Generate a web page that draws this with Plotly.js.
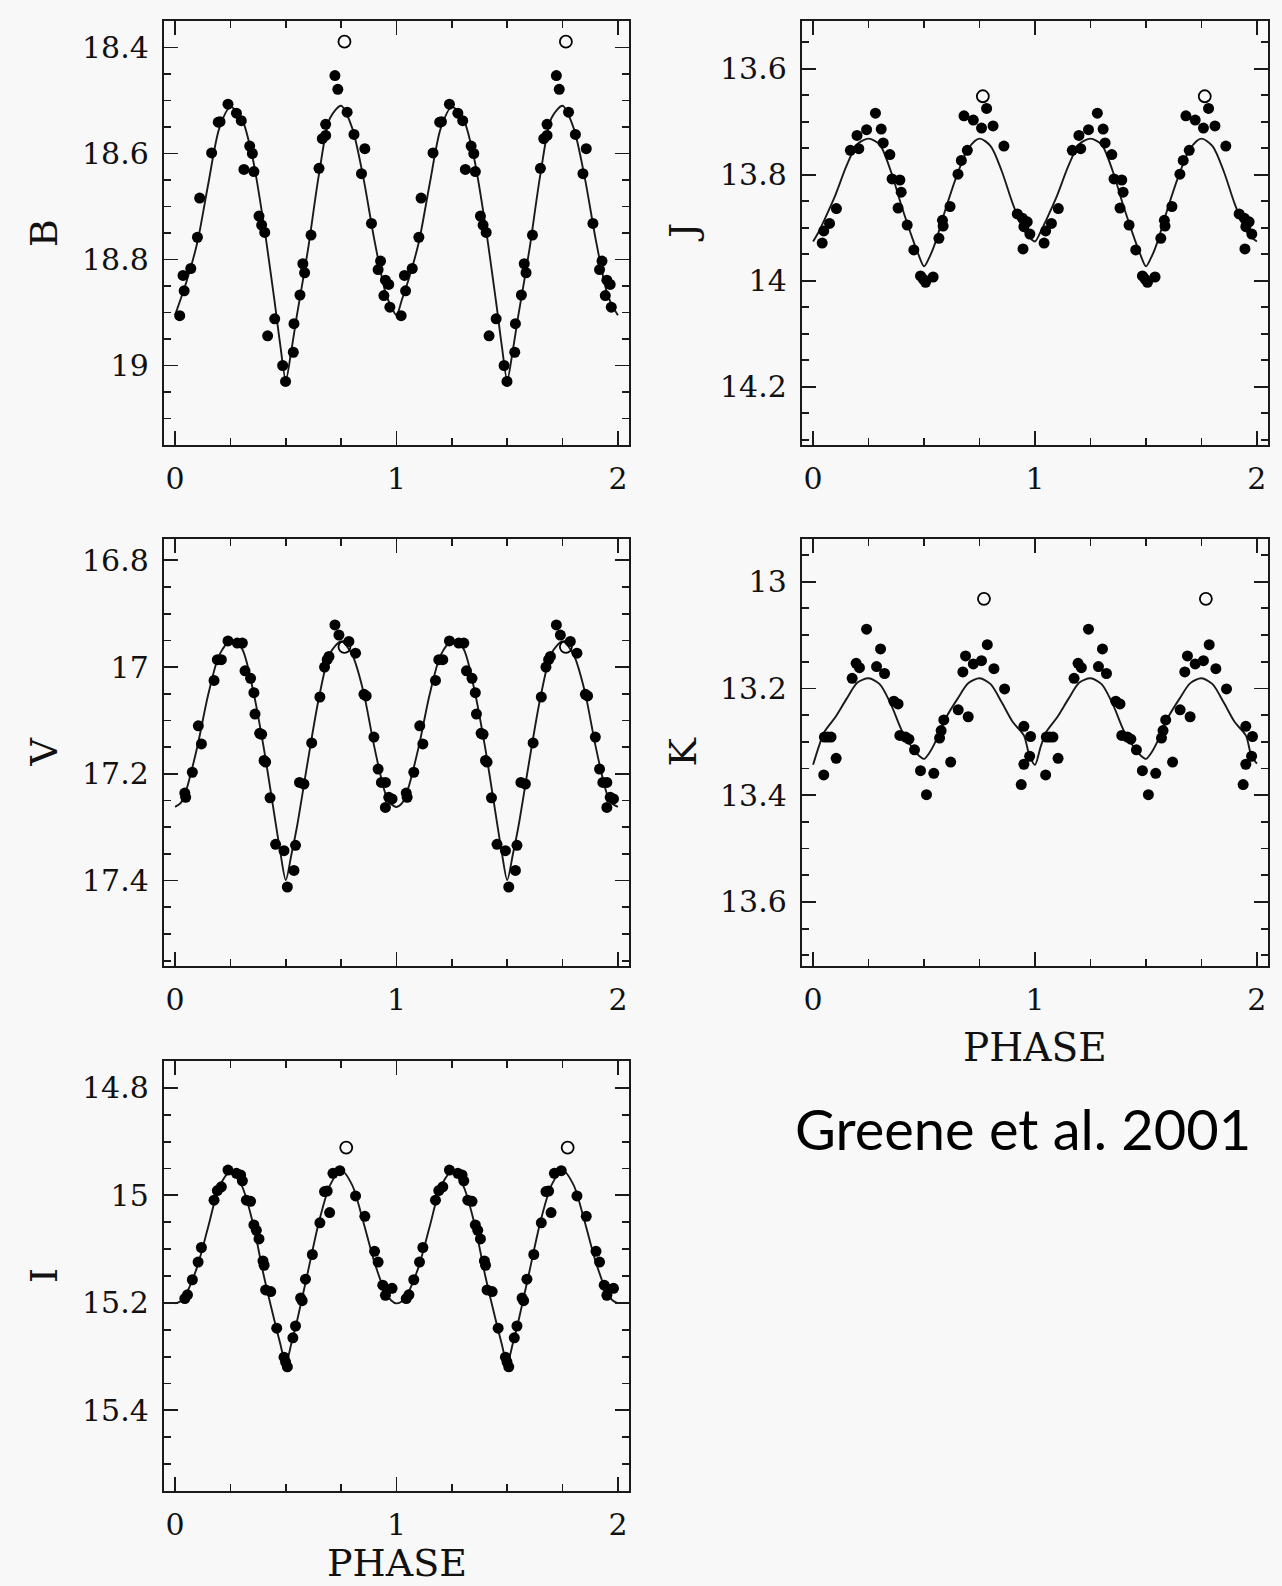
<!DOCTYPE html>
<html><head><meta charset="utf-8">
<script src="https://cdn.plot.ly/plotly-3.0.1.min.js"></script>
<style>html,body{margin:0;padding:0;background:#f8f8f8;} #chart{width:1282px;height:1586px;}</style>
</head><body><div id="chart"></div>
<script>
// ---- Data (one cycle, phase 0..1; plotted twice: phase and phase+1) ----
const bandNames = ["B", "V", "I", "J", "K"];

const bPhase = [0.021,0.041,0.036,0.071,0.101,0.111,0.165,0.195,0.203,0.239,0.277,0.299,0.337,0.349,0.311,0.356,0.379,0.391,0.405,0.418,0.450,0.486,0.499,0.534,0.537,0.564,0.577,0.585,0.614,0.650,0.665,0.680,0.680,0.722,0.735,0.777,0.808,0.857,0.842,0.887,0.928,0.917,0.950,0.965,0.943,0.970];
const bMag = [18.906,18.859,18.830,18.817,18.758,18.684,18.599,18.541,18.540,18.507,18.524,18.538,18.586,18.600,18.630,18.634,18.718,18.735,18.749,18.944,18.912,19.000,19.030,18.975,18.921,18.867,18.808,18.825,18.754,18.628,18.572,18.566,18.545,18.453,18.479,18.522,18.564,18.591,18.638,18.732,18.803,18.819,18.839,18.847,18.868,18.890];

const vPhase = [0.048,0.044,0.078,0.105,0.119,0.176,0.191,0.209,0.239,0.281,0.304,0.316,0.341,0.356,0.361,0.382,0.391,0.402,0.409,0.429,0.454,0.492,0.507,0.537,0.544,0.562,0.582,0.617,0.654,0.675,0.687,0.695,0.722,0.740,0.785,0.815,0.853,0.863,0.898,0.917,0.932,0.950,0.965,0.980,0.950];
const vMag = [17.244,17.236,17.197,17.110,17.144,17.025,16.986,16.986,16.951,16.955,16.955,17.007,17.021,17.048,17.088,17.124,17.126,17.175,17.178,17.245,17.332,17.344,17.412,17.381,17.334,17.216,17.219,17.142,17.056,17.000,16.986,16.980,16.921,16.940,16.952,16.974,17.051,17.054,17.131,17.191,17.216,17.216,17.244,17.247,17.263];

const iPhase = [0.044,0.056,0.078,0.104,0.119,0.176,0.191,0.209,0.239,0.277,0.296,0.304,0.322,0.341,0.356,0.367,0.379,0.397,0.402,0.409,0.432,0.459,0.492,0.499,0.507,0.532,0.544,0.567,0.574,0.589,0.620,0.654,0.698,0.675,0.687,0.713,0.744,0.815,0.857,0.901,0.917,0.938,0.958,0.980,0.950];
const iMag = [15.192,15.185,15.157,15.124,15.097,15.009,14.991,14.984,14.953,14.959,14.962,14.973,15.009,15.011,15.055,15.065,15.081,15.122,15.130,15.176,15.179,15.247,15.301,15.310,15.319,15.265,15.243,15.191,15.196,15.156,15.110,15.051,15.032,14.993,14.992,14.959,14.954,15.001,15.039,15.104,15.124,15.167,15.175,15.173,15.186];

const jPhase = [0.041,0.048,0.074,0.105,0.168,0.206,0.198,0.241,0.281,0.307,0.316,0.346,0.356,0.391,0.397,0.383,0.424,0.454,0.484,0.507,0.541,0.567,0.586,0.583,0.617,0.653,0.668,0.695,0.680,0.722,0.759,0.782,0.811,0.860,0.920,0.943,0.965,0.950,0.977,0.946,0.496];
const jMag = [13.929,13.906,13.892,13.864,13.754,13.751,13.726,13.715,13.684,13.714,13.740,13.762,13.808,13.810,13.833,13.863,13.895,13.942,13.991,14.003,13.993,13.920,13.897,13.886,13.860,13.799,13.773,13.754,13.689,13.697,13.712,13.675,13.708,13.746,13.874,13.882,13.889,13.898,13.912,13.940,13.997];

const kPhase = [0.048,0.051,0.066,0.081,0.104,0.176,0.194,0.209,0.241,0.286,0.304,0.322,0.364,0.383,0.391,0.417,0.432,0.457,0.484,0.511,0.544,0.570,0.577,0.589,0.620,0.654,0.675,0.687,0.699,0.722,0.759,0.785,0.815,0.863,0.950,0.980,0.976,0.950,0.938];
const kMag = [13.362,13.291,13.291,13.291,13.331,13.181,13.153,13.161,13.089,13.159,13.126,13.172,13.224,13.229,13.288,13.291,13.295,13.315,13.354,13.399,13.359,13.293,13.279,13.259,13.338,13.240,13.169,13.139,13.253,13.154,13.148,13.118,13.163,13.201,13.271,13.290,13.327,13.342,13.380];

// open-circle points (phase, mag)
const openPhase = {B: 0.765, V: 0.765, I: 0.773, J: 0.765, K: 0.770};
const openMag   = {B: 18.389, V: 16.962, I: 14.911, J: 13.652, K: 13.032};

// fitted light curves
const curvePhase = [0,0.025,0.05,0.1,0.15,0.2,0.25,0.3,0.35,0.4,0.45,0.475,0.5,0.525,0.55,0.6,0.65,0.7,0.75,0.8,0.85,0.9,0.95,0.975,1.0];
const bCurve = [18.905,18.875,18.844,18.769,18.657,18.552,18.512,18.533,18.608,18.732,18.881,18.961,19.028,18.972,18.906,18.782,18.639,18.533,18.510,18.552,18.645,18.763,18.862,18.888,18.905];
const vCurve = [17.262,17.255,17.231,17.150,17.051,16.977,16.951,16.964,17.039,17.150,17.281,17.346,17.399,17.352,17.300,17.175,17.057,16.974,16.952,16.977,17.045,17.150,17.237,17.256,17.262];
const iCurve = [15.201,15.197,15.183,15.133,15.058,14.984,14.956,14.981,15.049,15.148,15.235,15.276,15.313,15.276,15.235,15.142,15.049,14.981,14.953,14.981,15.049,15.124,15.180,15.195,15.201];
const jCurve = [13.926,13.908,13.886,13.839,13.784,13.742,13.732,13.743,13.793,13.861,13.923,13.951,13.973,13.955,13.929,13.861,13.799,13.750,13.732,13.746,13.793,13.855,13.905,13.918,13.926];
const kCurve = [13.343,13.310,13.282,13.254,13.220,13.189,13.181,13.192,13.229,13.279,13.313,13.325,13.332,13.320,13.301,13.254,13.220,13.190,13.181,13.192,13.226,13.263,13.288,13.326,13.341];

// axis ranges (reversed magnitude) and tick labels
const yRanges = {B:[19.15,18.35], V:[17.56,16.76], I:[15.55,14.75], J:[14.31,13.51], K:[13.72,12.92]};
const yTickVals = {B:[18.4,18.6,18.8,19], V:[16.8,17,17.2,17.4], I:[14.8,15,15.2,15.4], J:[13.6,13.8,14,14.2], K:[13,13.2,13.4,13.6]};
const yTickText = {B:["18.4","18.6","18.8","19"], V:["16.8","17","17.2","17.4"], I:["14.8","15","15.2","15.4"], J:["13.6","13.8","14","14.2"], K:["13","13.2","13.4","13.6"]};
const xTickVals = [0, 1, 2];
const xTickText = ["0", "1", "2"];
const xTitle = "PHASE";
const creditText = "Greene et al. 2001";

// ---- Build ----
const bands = {
  B: {ph: bPhase, mag: bMag, curve: bCurve, ax: ""},
  V: {ph: vPhase, mag: vMag, curve: vCurve, ax: "2"},
  I: {ph: iPhase, mag: iMag, curve: iCurve, ax: "3"},
  J: {ph: jPhase, mag: jMag, curve: jCurve, ax: "4"},
  K: {ph: kPhase, mag: kMag, curve: kCurve, ax: "5"}
};

const W = 1282, H = 1586;
const colL = [164/W, 629/W], colR = [802/W, 1268/W];
const row1 = [1-445/H, 1-21/H], row2 = [1-966/H, 1-539/H], row3 = [1-1491/H, 1-1061/H];
const dom = {B:[colL,row1], V:[colL,row2], I:[colL,row3], J:[colR,row1], K:[colR,row2]};

const ink = "#1a1a1a";
const traces = [];
const layout = {
  width: W, height: H,
  margin: {l:0, r:0, t:0, b:0},
  paper_bgcolor: "#f8f8f8", plot_bgcolor: "#f8f8f8",
  showlegend: false,
  annotations: []
};

bandNames.forEach(name => {
  const b = bands[name];
  const xa = "x" + b.ax, ya = "y" + b.ax;
  // curve
  const cx = [], cy = [];
  for (let c = 0; c < 2; c++) {
    curvePhase.forEach((p, k) => {
      if (c === 0 && k === curvePhase.length - 1) return;
      cx.push(p + c); cy.push(b.curve[k]);
    });
  }
  traces.push({x: cx, y: cy, xaxis: xa, yaxis: ya, mode: "lines",
    line: {color: ink, width: 1.9, shape: "spline", smoothing: 0.8}, hoverinfo: "skip"});
  // points
  const px = [], py = [];
  for (let c = 0; c < 2; c++) {
    b.ph.forEach((p, k) => { px.push(p + c); py.push(b.mag[k]); });
  }
  traces.push({x: px, y: py, xaxis: xa, yaxis: ya, mode: "markers",
    marker: {color: "#000", size: 11, symbol: "circle"}});
  // open circles
  traces.push({x: [openPhase[name], openPhase[name] + 1], y: [openMag[name], openMag[name]],
    xaxis: xa, yaxis: ya, mode: "markers",
    marker: {color: "#000", size: 12, symbol: "circle-open", line: {width: 1.8, color: "#000"}}});

  const axBase = {
    showline: true, linewidth: 2.2, linecolor: ink, mirror: "allticks",
    ticks: "inside", tickwidth: 1.8, tickcolor: ink,
    showgrid: false, zeroline: false,
    tickfont: {family: "DejaVu Serif", size: 30, color: "#111"}
  };
  layout["xaxis" + b.ax] = Object.assign({}, axBase, {
    domain: dom[name][0], anchor: ya, range: [-0.05, 2.05],
    tickmode: "array", tickvals: xTickVals, ticktext: xTickText, ticklen: 14,
    ticklabelstandoff: 6,
    minor: {tickmode: "linear", tick0: 0, dtick: 0.25, ticks: "inside", ticklen: 7, tickwidth: 1.8, tickcolor: ink}
  });
  layout["yaxis" + b.ax] = Object.assign({}, axBase, {
    domain: dom[name][1], anchor: xa, range: yRanges[name],
    tickmode: "array", tickvals: yTickVals[name], ticktext: yTickText[name], ticklen: 14,
    ticklabelstandoff: 7,
    minor: {tickmode: "linear", tick0: 0, dtick: 0.05, ticks: "inside", ticklen: 7, tickwidth: 1.8, tickcolor: ink}
  });
  // y-axis title (band name), rotated
  const isLeft = dom[name][0] === colL;
  layout.annotations.push({
    text: name, xref: "paper", yref: "paper",
    x: (isLeft ? 44 : 683) / W, y: (dom[name][1][0] + dom[name][1][1]) / 2,
    xanchor: "center", yanchor: "middle", textangle: -90, showarrow: false,
    font: {family: "DejaVu Serif", size: 38, color: "#111"}
  });
});

// x-axis titles
layout.annotations.push({text: xTitle, xref: "paper", yref: "paper", x: 1035/W, y: 1-1047/H,
  xanchor: "center", yanchor: "middle", showarrow: false, font: {family: "DejaVu Serif", size: 39, color: "#111"}});
layout.annotations.push({text: xTitle, xref: "paper", yref: "paper", x: 397/W, y: 0,
  xanchor: "center", yanchor: "bottom", showarrow: false, borderpad: 0, font: {family: "DejaVu Serif", size: 38, color: "#111"}});
// credit
layout.annotations.push({text: creditText, xref: "paper", yref: "paper", x: 1023/W, y: 1-1128/H,
  xanchor: "center", yanchor: "middle", showarrow: false, font: {family: "Lato", size: 56, color: "#000"}});

Plotly.newPlot("chart", traces, layout, {staticPlot: true, displayModeBar: false});
</script></body></html>
